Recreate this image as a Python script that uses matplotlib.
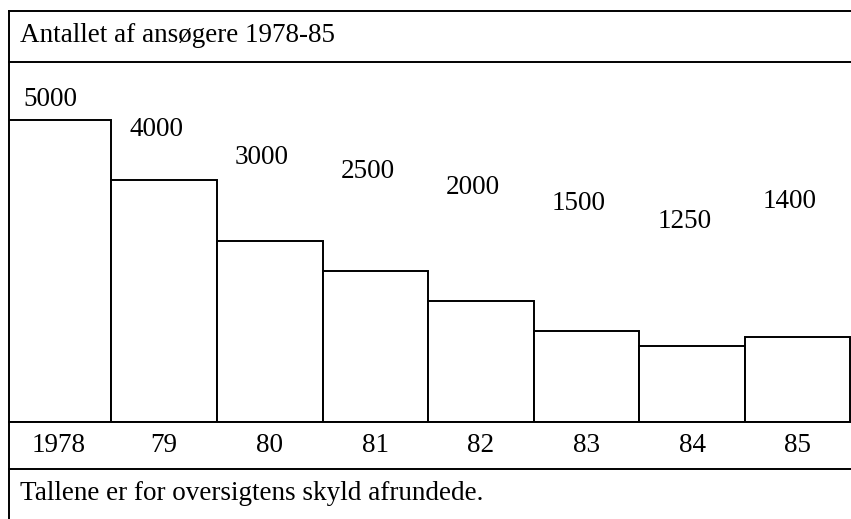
import matplotlib
matplotlib.use("Agg")
import matplotlib.pyplot as plt
from matplotlib.lines import Line2D
from matplotlib.transforms import blended_transform_factory

plt.rcParams['font.family'] = ['Liberation Serif', 'DejaVu Serif']

# Data
years = ["1978", "79", "80", "81", "82", "83", "84", "85"]
values = [5000, 4000, 3000, 2500, 2000, 1500, 1250, 1400]
value_labels = ["5000", "4000", "3000", "2500", "2000", "1500", "1250", "1400"]
title = "Antallet af ansøgere 1978-85"
footnote = "Tallene er for oversigtens skyld afrundede."

# Layout (pixels in the 851x519 image)
W, H = 851, 519
label_y_px = [100, 129, 158, 172, 188, 203, 222, 202]
FS = 19.5

fig = plt.figure(figsize=(W / 100, H / 100), dpi=100)

def fx(x):
    return x / W

def fy(y):
    return 1 - y / H

x_left, x_right = 9, 851
y_top_plot, y_base = 62, 422
ax = fig.add_axes([fx(x_left), fy(y_base), fx(x_right - x_left), (y_base - y_top_plot) / H])
ax.set_xlim(0.03, len(values) + 0.005)
ax.set_ylim(0, (y_base - y_top_plot) / 0.0605)
ax.axis('off')

ax.bar(range(len(values)), values, width=1.0, align='edge',
       facecolor='white', edgecolor='black', linewidth=1.4, clip_on=True)

trans = blended_transform_factory(ax.transData, fig.transFigure)
for i, (lab, ypx) in enumerate(zip(value_labels, label_y_px)):
    ax.text(i + 0.5 - 0.075, fy(ypx), lab, transform=trans, ha='center', va='center',
            fontsize=FS)
for i, yr in enumerate(years):
    ax.text(i + 0.5, fy(446), yr, transform=trans, ha='center', va='center', fontsize=FS)

# Frame lines
lw = 1.4
def hline(y, x0=9, x1=851):
    fig.add_artist(Line2D([fx(x0), fx(x1)], [fy(y), fy(y)], color='black', lw=lw,
                          transform=fig.transFigure))

hline(11)
hline(62)
hline(422)
hline(469)
fig.add_artist(Line2D([fx(9), fx(9)], [fy(11), fy(519)], color='black', lw=lw,
                      transform=fig.transFigure))

fig.text(fx(20), fy(36), title, ha='left', va='center', fontsize=FS)
fig.text(fx(20), fy(493), footnote, ha='left', va='center', fontsize=FS)

fig.savefig("out.png", dpi=100)
